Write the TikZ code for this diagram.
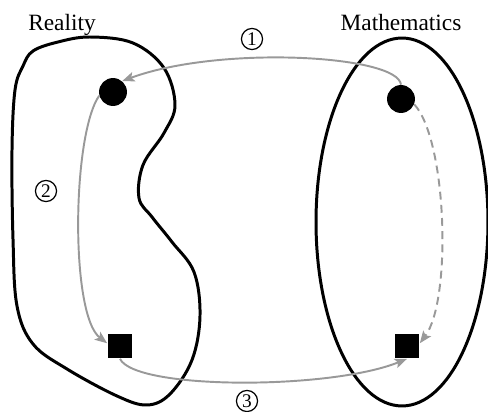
\documentclass[tikz,border=0pt]{standalone}
\usepackage{fontspec}
\setmainfont{Liberation Serif}
\usetikzlibrary{arrows.meta}

\tikzset{
  region/.style={line width=1.7pt, black},
  flow/.style={->, line width=1.1pt, black!40},
  spot/.style={circle, fill=black, inner sep=0pt, minimum size=15.9pt},
  sqbox/.style={rectangle, fill=black, inner sep=0pt, minimum size=14.2pt},
  stepno/.style={circle, draw, line width=0.7pt, inner sep=0pt, minimum size=12pt,
    font=\fontsize{11}{11}\selectfont},
  title/.style={anchor=base, font=\fontsize{13.3}{15}\selectfont}
}

\begin{document}
\begin{tikzpicture}[>={Stealth[length=7pt, width=5.5pt, inset=1.5pt]},
                    x=0.02cm, y=-0.02cm]

\useasboundingbox (0,0) rectangle (488,412);

%% =============== Reality (left blob) ===============

  % --- Blob outline ---
  \draw[region] plot[smooth cycle, tension=0.6] coordinates {
    (33,51) (58,42) (90,37) (133,43) (164,68) (175,105) (164,133) (143,165)
    (139,198) (152,217) (172,242) (194,272) (200,316) (192,360)
    (170,394) (147,405) (117,396) (67,369) (33,344) (17,306)
    (13,239) (12,150) (15,90) (23,66)};

  % --- Title ---
  \node[title] (reality) at (62,31) {Reality};

%% =============== Mathematics (right ellipse) ===============

  % --- Ellipse outline ---
  \draw[region] (402,222) ellipse (1.72cm and 3.68cm);

  % --- Title ---
  \node[title] (mathematics) at (401,31) {Mathematics};

%% =============== Objects ===============

  \node[spot]  (rdot) at (113,92)  {};
  \node[spot]  (mdot) at (401,99)  {};
  \node[sqbox] (rsq)  at (120,346) {};
  \node[sqbox] (msq)  at (407,346) {};

%% =============== Connections ===============

  % --- (1) mathematics back to reality ---
  \draw[flow] (mdot.north) .. controls (398,55) and (220,45) .. (rdot.50);
  \node[stepno] (one) at (252,39) {1};

  % --- (2) inside reality ---
  \draw[flow] (rdot.195) .. controls (72,135) and (70,315) .. (rsq.168);
  \node[stepno] (two) at (46,191) {2};

  % --- dashed path inside mathematics ---
  \draw[flow, dash pattern=on 4.5pt off 3pt]
    (mdot.-22) .. controls (447,140) and (452,300) .. (msq.12);

  % --- (3) reality across to mathematics ---
  \draw[flow] (rsq.south) .. controls (135,390) and (330,390) .. (msq.south);
  \node[stepno] (three) at (247,401) {3};

\end{tikzpicture}
\end{document}
